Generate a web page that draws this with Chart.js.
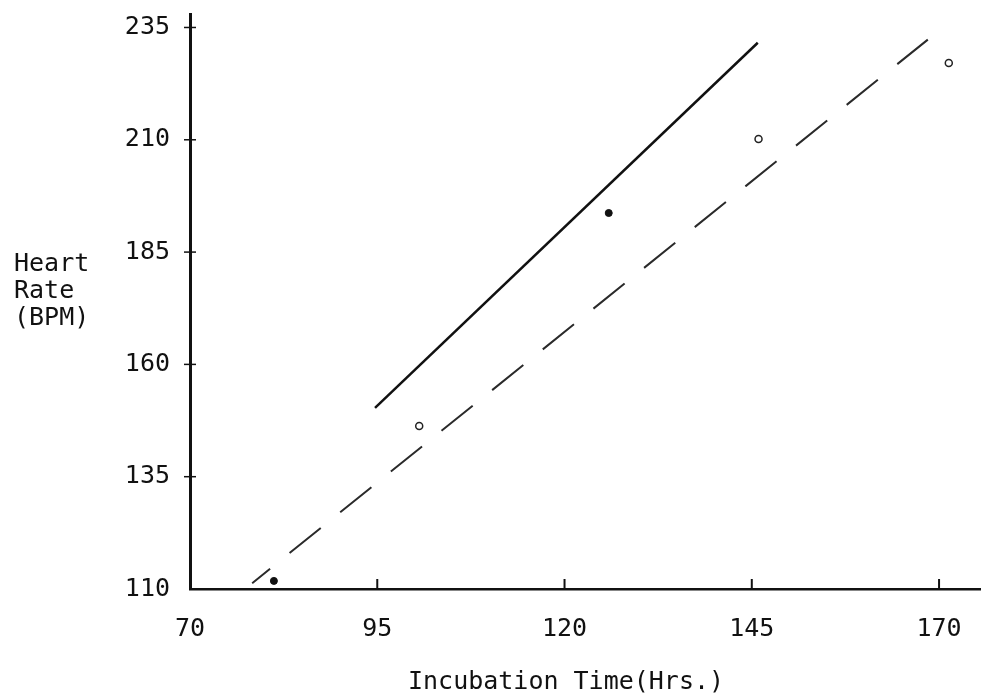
<!DOCTYPE html>
<html lang="en">
  <head>
    <meta charset="UTF-8" />
    <title>Heart Rate vs Incubation Time</title>
    <script src="https://cdn.jsdelivr.net/npm/chart.js@4.4.1/dist/chart.umd.min.js"></script>
    <style>
      body {
        margin: 0;
        background: #fff;
      }
      .wrap {
        position: relative;
        width: 981px;
        height: 695px;
      }
      .axis-title {
        position: absolute;
        font-family: 'DejaVu Sans Mono', monospace;
        font-size: 25px;
        line-height: 27px;
        color: #111;
        white-space: nowrap;
      }
      .y-title {
        left: 14px;
        top: 249px;
      }
      .x-title {
        left: 408px;
        top: 667px;
      }
    </style>
  </head>
  <body>
    <div class="wrap">
      <canvas id="chart" width="981" height="695"></canvas>
      <div class="axis-title y-title">Heart<br />Rate<br />(BPM)</div>
      <div class="axis-title x-title">Incubation Time(Hrs.)</div>
    </div>

    <script>
      // values
      const xTicks = [70, 95, 120, 145, 170];
      const yTicks = [110, 135, 160, 185, 210, 235];

      const filledX = [81.2, 125.9];
      const filledY = [111.8, 193.7];

      const openX = [100.6, 145.9, 171.3];
      const openY = [146.3, 210.2, 227.1];

      const solidX = [94.7, 145.8];
      const solidY = [150.3, 231.6];

      const dashedX = [78.3, 168.5];
      const dashedY = [111.3, 232.3];

      const ink = '#111';
      const font = { family: "'DejaVu Sans Mono', monospace", size: 25 };

      function pts(xs, ys) {
        return xs.map((x, i) => ({ x: x, y: ys[i] }));
      }

      // small tick marks: x ticks point up into the plot, y ticks cross the axis
      const tickMarks = {
        id: 'tickMarks',
        afterDraw(chart) {
          const ctx = chart.ctx;
          const xs = chart.scales.x;
          const ys = chart.scales.y;
          const x0 = xs.getPixelForValue(xs.min);
          const y0 = ys.getPixelForValue(ys.min);
          ctx.save();
          ctx.strokeStyle = ink;
          ctx.lineWidth = 2;
          xTicks.slice(1).forEach((v) => {
            const px = xs.getPixelForValue(v);
            ctx.beginPath();
            ctx.moveTo(px, y0);
            ctx.lineTo(px, y0 - 10);
            ctx.stroke();
          });
          ctx.lineWidth = 1.5;
          yTicks.slice(1).forEach((v) => {
            const py = ys.getPixelForValue(v);
            ctx.beginPath();
            ctx.moveTo(x0 - 6, py);
            ctx.lineTo(x0 + 6, py);
            ctx.stroke();
          });
          ctx.restore();
        },
      };

      new Chart(document.getElementById('chart'), {
        type: 'scatter',
        data: {
          datasets: [
            {
              label: 'Fitted (solid)',
              data: pts(solidX, solidY),
              showLine: true,
              borderColor: ink,
              borderWidth: 2.5,
              pointRadius: 0,
            },
            {
              label: 'Fitted (dashed)',
              data: pts(dashedX, dashedY),
              showLine: true,
              borderColor: '#2a2a2a',
              borderWidth: 2,
              borderDash: [40, 25],
              borderDashOffset: 17,
              pointRadius: 0,
            },
            {
              label: 'Filled points',
              data: pts(filledX, filledY),
              pointRadius: 3.5,
              backgroundColor: ink,
              borderColor: ink,
              borderWidth: 1,
            },
            {
              label: 'Open points',
              data: pts(openX, openY),
              pointRadius: 3.5,
              backgroundColor: '#fff',
              borderColor: '#222',
              borderWidth: 1.5,
            },
          ],
        },
        options: {
          responsive: false,
          animation: false,
          layout: {
            autoPadding: false,
            padding: { left: 125, top: 14, right: 0, bottom: 0 },
          },
          plugins: {
            legend: { display: false },
            tooltip: { enabled: false },
          },
          scales: {
            x: {
              type: 'linear',
              min: 70,
              max: 175.6,
              afterBuildTicks: (scale) => {
                scale.ticks = xTicks.map((v) => ({ value: v }));
              },
              afterFit: (scale) => {
                scale.height = 106;
                scale.paddingLeft = 0;
                scale.paddingRight = 0;
              },
              ticks: { color: ink, font: font, padding: 25, maxRotation: 0 },
              grid: { display: true, drawOnChartArea: false, drawTicks: false },
              border: { display: true, color: ink, width: 2.5 },
            },
            y: {
              type: 'linear',
              min: 110,
              max: 238,
              afterBuildTicks: (scale) => {
                scale.ticks = yTicks.map((v) => ({ value: v }));
              },
              afterFit: (scale) => {
                scale.width = 65;
                scale.paddingTop = 0;
                scale.paddingBottom = 0;
              },
              ticks: { color: ink, font: font, padding: 20 },
              grid: { display: true, drawOnChartArea: false, drawTicks: false },
              border: { display: true, color: ink, width: 3 },
            },
          },
        },
        plugins: [tickMarks],
      });
    </script>
  </body>
</html>
